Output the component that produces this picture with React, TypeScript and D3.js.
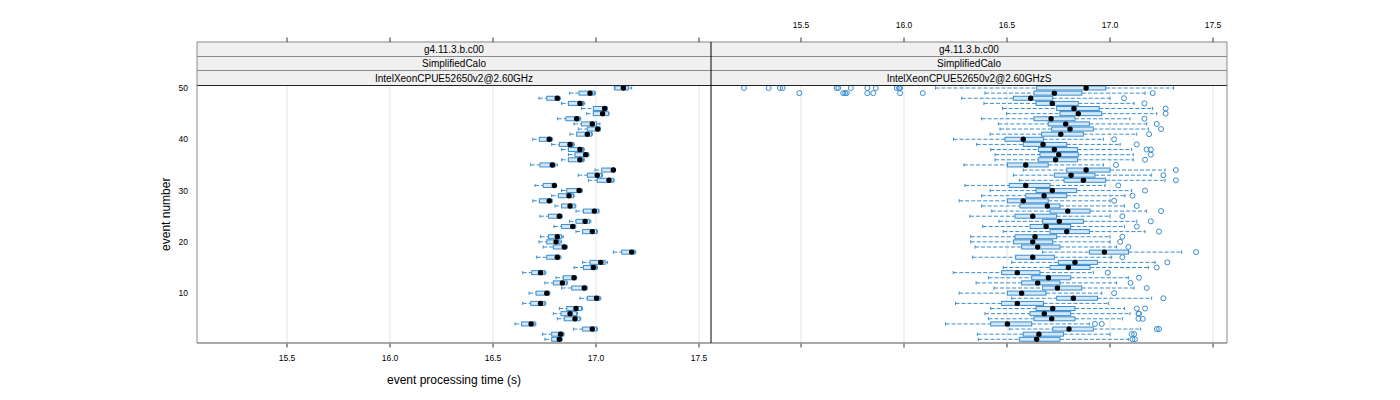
import React from "react";
import * as d3 from "d3";

// ---------- data ----------
const events = d3.range(1, 51);
const xTicks = [15.5, 16.0, 16.5, 17.0, 17.5];
const yTicks = [10, 20, 30, 40, 50];
const stripLabels = ["g4.11.3.b.c00", "SimplifiedCalo"];
const panelNames = ["IntelXeonCPUE52650v2@2.60GHz", "IntelXeonCPUE52650v2@2.60GHzS"];

// left panel (events 1..50)
const leftMin = [16.752, 16.741, 16.89, 16.607, 16.812, 16.793, 16.822, 16.644, 16.922, 16.675,
  16.833, 16.752, 16.806, 16.644, 16.893, 16.935, 16.712, 17.084, 16.744, 16.723,
  16.731, 16.903, 16.796, 16.871, 16.728, 16.903, 16.801, 16.693, 16.785, 16.833,
  16.704, 16.963, 16.914, 16.995, 16.683, 16.833, 16.866, 16.833, 16.785, 16.693,
  16.874, 16.914, 16.893, 16.814, 16.955, 16.93, 16.833, 16.723, 16.871, 17.089];
const leftQ1 = [16.785, 16.785, 16.935, 16.639, 16.846, 16.83, 16.858, 16.683, 16.958, 16.709,
  16.882, 16.793, 16.841, 16.688, 16.939, 16.971, 16.761, 17.125, 16.793, 16.761,
  16.769, 16.935, 16.833, 16.903, 16.769, 16.939, 16.833, 16.725, 16.817, 16.858,
  16.744, 17.006, 16.958, 17.028, 16.728, 16.866, 16.898, 16.866, 16.822, 16.725,
  16.906, 16.958, 16.93, 16.854, 16.987, 16.987, 16.866, 16.761, 16.918, 17.092];
const leftMed = [16.822, 16.828, 16.982, 16.685, 16.898, 16.874, 16.903, 16.731, 17.003, 16.761,
  16.943, 16.837, 16.893, 16.731, 16.987, 17.023, 16.812, 17.173, 16.846, 16.806,
  16.812, 16.982, 16.887, 16.947, 16.822, 16.992, 16.874, 16.773, 16.869, 16.918,
  16.798, 17.063, 17.006, 17.084, 16.788, 16.922, 16.95, 16.922, 16.874, 16.773,
  16.958, 17.008, 16.982, 16.906, 17.032, 17.042, 16.922, 16.812, 16.971, 17.133];
const leftQ3 = [16.833, 16.841, 17.003, 16.704, 16.922, 16.906, 16.93, 16.752, 17.019, 16.773,
  16.955, 16.858, 16.903, 16.752, 17.003, 17.044, 16.825, 17.189, 16.858, 16.825,
  16.833, 17.003, 16.898, 16.968, 16.833, 17.011, 16.898, 16.785, 16.89, 16.93,
  16.801, 17.084, 17.028, 17.09, 16.801, 16.939, 16.963, 16.939, 16.89, 16.785,
  16.979, 17.019, 17.003, 16.922, 17.06, 17.052, 16.939, 16.822, 16.992, 17.157];
const leftMax = [16.836, 16.845, 17.007, 16.708, 16.926, 16.91, 16.934, 16.756, 17.023, 16.776,
  16.958, 16.862, 16.906, 16.756, 17.007, 17.055, 16.83, 17.193, 16.862, 16.833,
  16.841, 17.007, 16.902, 16.975, 16.836, 17.015, 16.902, 16.788, 16.894, 16.934,
  16.806, 17.088, 17.032, 17.094, 16.812, 16.943, 16.966, 16.943, 16.895, 16.79,
  16.982, 17.022, 17.019, 16.926, 17.063, 17.055, 16.945, 16.828, 16.997, 17.173];

// right panel (events 1..50)
const rightMin = [16.361, 16.356, 16.511, 16.202, 16.41, 16.393, 16.421, 16.25, 16.523, 16.268,
  16.437, 16.35, 16.41, 16.239, 16.482, 16.523, 16.333, 16.673, 16.345, 16.324,
  16.324, 16.482, 16.382, 16.461, 16.32, 16.426, 16.377, 16.268, 16.377, 16.418,
  16.296, 16.56, 16.531, 16.579, 16.291, 16.442, 16.442, 16.421, 16.353, 16.24,
  16.418, 16.466, 16.458, 16.377, 16.498, 16.479, 16.388, 16.28, 16.393, 16.153];
const rightQ1 = [16.56, 16.579, 16.722, 16.421, 16.631, 16.612, 16.641, 16.474, 16.741, 16.502,
  16.673, 16.571, 16.62, 16.474, 16.709, 16.749, 16.542, 16.9, 16.571, 16.531,
  16.539, 16.709, 16.612, 16.673, 16.539, 16.709, 16.563, 16.502, 16.591, 16.641,
  16.511, 16.777, 16.73, 16.79, 16.502, 16.652, 16.66, 16.652, 16.579, 16.49,
  16.668, 16.717, 16.7, 16.631, 16.757, 16.741, 16.641, 16.531, 16.631, 16.644];
const rightMed = [16.644, 16.655, 16.801, 16.502, 16.717, 16.681, 16.722, 16.55, 16.822, 16.571,
  16.745, 16.649, 16.701, 16.55, 16.798, 16.83, 16.625, 16.973, 16.649, 16.625,
  16.636, 16.79, 16.69, 16.754, 16.625, 16.795, 16.696, 16.579, 16.68, 16.72,
  16.591, 16.871, 16.811, 16.884, 16.591, 16.736, 16.751, 16.73, 16.675, 16.579,
  16.761, 16.806, 16.785, 16.714, 16.846, 16.825, 16.72, 16.615, 16.73, 16.884];
const rightQ3 = [16.757, 16.774, 16.919, 16.62, 16.83, 16.809, 16.83, 16.677, 16.939, 16.689,
  16.863, 16.757, 16.809, 16.66, 16.903, 16.939, 16.73, 17.09, 16.757, 16.722,
  16.741, 16.9, 16.809, 16.871, 16.741, 16.903, 16.757, 16.7, 16.79, 16.838,
  16.709, 16.979, 16.927, 17.0, 16.7, 16.842, 16.846, 16.842, 16.79, 16.677,
  16.871, 16.919, 16.9, 16.83, 16.96, 16.948, 16.846, 16.722, 16.863, 16.979];
const rightMax = [17.089, 17.0, 17.149, 16.9, 17.06, 17.097, 17.07, 16.992, 17.202, 16.96,
  17.117, 17.032, 17.089, 16.919, 17.186, 17.219, 17.008, 17.348, 17.032, 17.0,
  17.0, 17.17, 17.07, 17.13, 17.0, 17.178, 17.07, 17.0, 17.073, 17.105,
  16.976, 17.267, 17.202, 17.267, 16.968, 17.113, 17.113, 17.105, 17.049, 16.968,
  17.13, 17.186, 17.178, 17.097, 17.227, 17.207, 17.117, 17.0, 17.17, 17.308];
const rightOut: number[][] = [
  [17.109, 17.121], [17.105, 17.117], [17.227, 17.238], [16.927, 16.96], [17.138, 17.159],
  [17.138, 17.141], [17.13, 17.17], [], [17.259], [17.02],
  [17.178], [17.1], [17.141], [16.989], [17.227],
  [17.278], [17.06], [17.418], [17.089], [17.049],
  [17.06], [17.238], [17.13], [17.198], [17.06],
  [17.248], [17.13], [17.02], [17.109], [17.17],
  [17.04], [17.32], [17.259], [17.32], [17.029],
  [17.17], [17.198], [17.178, 17.198], [17.13], [17.02],
  [17.19], [17.248], [17.227], [17.167], [17.27],
  [17.27], [17.167], [17.068],
  [17.207, 15.492, 15.705, 15.714, 15.722, 15.822, 15.851, 15.981, 16.091],
  [15.223, 15.343, 15.398, 15.411, 15.673, 15.681, 15.742, 15.822, 15.863, 15.965, 15.976, 15.981],
];

// ---------- layout ----------
const PANEL_TOP = 85.5;
const PANEL_BOTTOM = 343;
const STRIP_TOP = 42;
const STRIP_H = (PANEL_TOP - STRIP_TOP) / 3;
const panels = [
  { x0: 197, x1: 711, range: [287, 699], min: leftMin, q1: leftQ1, med: leftMed, q3: leftQ3, max: leftMax, out: null as number[][] | null, name: panelNames[0] },
  { x0: 711, x1: 1227, range: [801, 1213], min: rightMin, q1: rightQ1, med: rightMed, q3: rightQ3, max: rightMax, out: rightOut, name: panelNames[1] },
];

const BLUE = "#3a8dcf";
const FILL = "#d3e8f7";
const FONT = "'Liberation Sans', Arial, Helvetica, sans-serif";

export default function App() {
  const y = d3.scaleLinear().domain([1, 50]).range([339.3, 88]);
  const bh = 2; // half box height
  const cap = 1.6;

  return (
    <svg width={1400} height={400} style={{ position: "absolute", left: 0, top: 0, background: "#fff" }} fontFamily={FONT}>
      {panels.map((p, pi) => {
        const x = d3.scaleLinear().domain([15.5, 17.5]).range(p.range);
        const cx = (p.x0 + p.x1) / 2;
        return (
          <g key={pi}>
            {xTicks.map((t) => (
              <line key={t} x1={x(t)} x2={x(t)} y1={PANEL_TOP} y2={PANEL_BOTTOM} stroke="#e6e6e6" strokeWidth={1} />
            ))}
            {events.map((e, i) => {
              const yy = y(e);
              return (
                <g key={e}>
                  <line x1={x(p.min[i])} x2={x(p.q1[i])} y1={yy} y2={yy} stroke={BLUE} strokeWidth={1} strokeDasharray="4,2" />
                  <line x1={x(p.q3[i])} x2={x(p.max[i])} y1={yy} y2={yy} stroke={BLUE} strokeWidth={1} strokeDasharray="4,2" />
                  <line x1={x(p.min[i])} x2={x(p.min[i])} y1={yy - cap} y2={yy + cap} stroke={BLUE} strokeWidth={1} />
                  <line x1={x(p.max[i])} x2={x(p.max[i])} y1={yy - cap} y2={yy + cap} stroke={BLUE} strokeWidth={1} />
                  <rect x={x(p.q1[i])} y={yy - bh} width={x(p.q3[i]) - x(p.q1[i])} height={bh * 2} fill={FILL} stroke={BLUE} strokeWidth={1} />
                  {p.out && p.out[i].map((o, k) => (
                    <circle key={k} cx={x(o)} cy={yy} r={2.5} fill="none" stroke={BLUE} strokeWidth={1} />
                  ))}
                  <circle cx={x(p.med[i])} cy={yy} r={2.7} fill="#000" />
                </g>
              );
            })}
            {[stripLabels[0], stripLabels[1], p.name].map((s, si) => (
              <g key={si}>
                <rect x={p.x0} y={STRIP_TOP + si * STRIP_H} width={p.x1 - p.x0} height={STRIP_H} fill="#f0f0f0" stroke="none" />
                <text x={cx} y={STRIP_TOP + si * STRIP_H + STRIP_H / 2 + 3.6} textAnchor="middle" fontSize={10} fill="#000">{s}</text>
                <line x1={p.x0} x2={p.x1} y1={STRIP_TOP + (si + 1) * STRIP_H} y2={STRIP_TOP + (si + 1) * STRIP_H} stroke="#222" strokeWidth={1} />
              </g>
            ))}
            <line x1={p.x0} x2={p.x1} y1={STRIP_TOP} y2={STRIP_TOP} stroke="#888" strokeWidth={1} />
            {xTicks.map((t) => (
              <g key={"t" + t}>
                <line x1={x(t)} x2={x(t)} y1={PANEL_BOTTOM} y2={PANEL_BOTTOM + 4.5} stroke="#333" strokeWidth={1} />
                <line x1={x(t)} x2={x(t)} y1={STRIP_TOP - 4.5} y2={STRIP_TOP} stroke="#333" strokeWidth={1} />
                {pi === 0 && (
                  <text x={x(t)} y={360.5} textAnchor="middle" fontSize={8.5} fill="#000">{t.toFixed(1)}</text>
                )}
                {pi === 1 && (
                  <text x={x(t)} y={28} textAnchor="middle" fontSize={8.5} fill="#000">{t.toFixed(1)}</text>
                )}
              </g>
            ))}
          </g>
        );
      })}
      <line x1={197} x2={1227} y1={PANEL_BOTTOM} y2={PANEL_BOTTOM} stroke="#8c8c8c" strokeWidth={1.6} />
      <line x1={197} x2={197} y1={STRIP_TOP} y2={PANEL_BOTTOM} stroke="#8c8c8c" strokeWidth={1} />
      <line x1={1227} x2={1227} y1={STRIP_TOP} y2={PANEL_BOTTOM} stroke="#8c8c8c" strokeWidth={1} />
      <line x1={711} x2={711} y1={STRIP_TOP} y2={PANEL_BOTTOM} stroke="#000" strokeWidth={1} />
      {yTicks.map((t) => (
        <text key={t} x={188} y={y(t) + 3} textAnchor="end" fontSize={8.5} fill="#000">{t}</text>
      ))}
      <text x={454} y={384} textAnchor="middle" fontSize={12} fill="#000">event processing time (s)</text>
      <text transform={`translate(170,${(PANEL_TOP + PANEL_BOTTOM) / 2}) rotate(-90)`} textAnchor="middle" fontSize={12} fill="#000">event number</text>
    </svg>
  );
}
